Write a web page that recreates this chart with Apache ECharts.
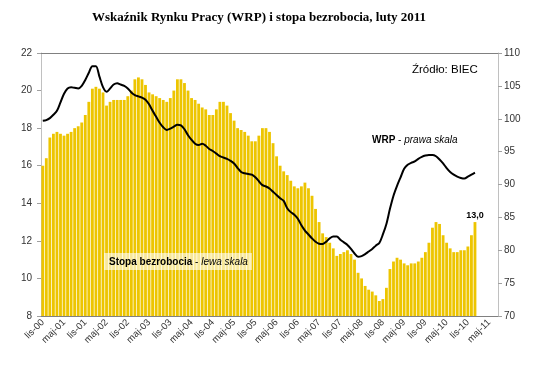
<!DOCTYPE html>
<html>
<head>
<meta charset="utf-8">
<script src="https://cdn.jsdelivr.net/npm/echarts@6/dist/echarts.min.js"></script>
<style>
html,body{margin:0;padding:0;background:#fff;}
#chart{width:550px;height:368px;}
</style>
</head>
<body>
<div id="chart"></div>
<script>
// Month abbreviations (Polish) used for the category axis
const monthNames = ['sty','lut','mar','kwi','maj','cze','lip','sie','wrz','paź','lis','gru'];
const startYear = 2000, startMonth = 10; // lis-00
const categoryCount = 129;               // lis-00 .. lip-11 (axis extent)

// Stopa bezrobocia (%), monthly from lis-00 to sty-11 (left scale)
const unemployment = [
  16.0, 16.4,
  17.5, 17.7, 17.8, 17.7, 17.6, 17.7, 17.8, 18.0, 18.1, 18.3, 18.7, 19.4,
  20.1, 20.2, 20.1, 19.9, 19.2, 19.4, 19.5, 19.5, 19.5, 19.5, 19.7, 20.0,
  20.6, 20.7, 20.6, 20.3, 19.9, 19.8, 19.7, 19.6, 19.5, 19.4, 19.6, 20.0,
  20.6, 20.6, 20.4, 20.0, 19.6, 19.5, 19.3, 19.1, 19.0, 18.7, 18.7, 19.0,
  19.4, 19.4, 19.2, 18.8, 18.4, 18.0, 17.9, 17.8, 17.6, 17.3, 17.3, 17.6,
  18.0, 18.0, 17.8, 17.2, 16.5, 16.0, 15.7, 15.5, 15.2, 14.9, 14.8, 14.9,
  15.1, 14.8, 14.4, 13.7, 13.0, 12.4, 12.2, 11.9, 11.6, 11.2, 11.3, 11.4,
  11.5, 11.3, 11.0, 10.3, 10.0, 9.6, 9.4, 9.3, 9.1, 8.8, 8.9, 9.5,
  10.5, 10.9, 11.1, 11.0, 10.8, 10.7, 10.8, 10.8, 10.9, 11.1, 11.4, 11.9,
  12.7, 13.0, 12.9, 12.3, 11.9, 11.6, 11.4, 11.4, 11.5, 11.5, 11.7, 12.3,
  13.0
];

// WRP index (right scale)
const wrp = [
  99.7, 99.8,
  100.1, 100.6, 101.2, 102.5, 103.8, 104.6, 104.8, 104.7, 104.6, 105.0, 105.9, 107.0,
  108.0, 108.0, 106.4, 104.8, 104.1, 104.6, 105.2, 105.4, 105.2, 105.0, 104.6, 104.0,
  103.6, 103.4, 103.2, 102.9, 102.2, 101.2, 100.3, 99.4, 98.7, 98.3, 98.5, 98.8,
  99.1, 99.0, 98.4, 97.5, 96.8, 96.2, 96.0, 96.2, 95.9, 95.4, 95.1, 94.7,
  94.3, 94.1, 93.9, 93.6, 93.2, 92.5, 91.9, 91.7, 91.6, 91.5, 91.1, 90.5,
  89.9, 89.7, 89.4, 88.9, 88.4, 87.9, 87.5, 86.4, 85.8, 85.4, 84.8, 83.8,
  83.0, 82.4, 81.8, 81.3, 81.0, 80.95, 81.3, 81.8, 82.1, 82.1, 81.6, 81.2,
  80.8, 80.2, 79.5, 79.0, 79.1, 79.4, 79.8, 80.2, 80.7, 81.1, 82.4, 84.0,
  86.3, 88.3, 89.8, 91.1, 92.4, 93.0, 93.3, 93.5, 93.9, 94.2, 94.4, 94.5,
  94.5, 94.3, 93.8, 93.2, 92.5, 91.9, 91.5, 91.2, 91.0, 90.9, 91.2, 91.5,
  91.8
];

const leftTicks = {min: 8, max: 22, interval: 2};
const rightTicks = {min: 70, max: 110, interval: 5};

const categories = [];
for (let k = 0; k < categoryCount; k++) {
  const m = (startMonth + k) % 12;
  const y = startYear + Math.floor((startMonth + k) / 12);
  categories.push(monthNames[m] + '-' + String(y % 100).padStart(2, '0'));
}

const barData = unemployment.map((v, idx) => idx === unemployment.length - 1
  ? {value: v, label: {show: true, position: 'top', distance: 2,
      formatter: p => p.value.toFixed(1).replace('.', ','),
      fontFamily: 'Liberation Sans Narrow, Liberation Sans', fontWeight: 'bold', fontSize: 9, color: '#000'}}
  : v);

const chart = echarts.init(document.getElementById('chart'), null, {renderer: 'canvas'});
const fontSans = 'Liberation Sans, Arial, sans-serif';
chart.setOption({
  animation: false,
  backgroundColor: '#fff',
  title: {
    text: 'Wskaźnik Rynku Pracy (WRP) i stopa bezrobocia, luty 2011',
    left: 87, top: 6,
    textStyle: {fontFamily: 'Liberation Serif, Times New Roman, serif', fontWeight: 'bold', fontSize: 13, color: '#000'}
  },
  grid: {left: 41, right: 52, top: 53, bottom: 52, containLabel: false},
  xAxis: [{
    type: 'category', data: categories, boundaryGap: true,
    axisLine: {lineStyle: {color: '#808080', width: 1}},
    axisTick: {interval: 5, length: 4, lineStyle: {color: '#808080'}},
    axisLabel: {interval: 5, rotate: 45, fontSize: 9.5, color: '#333', fontFamily: fontSans, margin: 5},
    splitLine: {show: false}
  }, {
    type: 'category', data: categories, position: 'top',
    axisLine: {show: true, lineStyle: {color: '#808080', width: 1}},
    axisTick: {show: false}, axisLabel: {show: false}, splitLine: {show: false}
  }],
  yAxis: [{
    type: 'value', min: leftTicks.min, max: leftTicks.max, interval: leftTicks.interval,
    axisLine: {show: true, lineStyle: {color: '#c0c0c0'}},
    axisTick: {show: true, length: 4, lineStyle: {color: '#a0a0a0'}},
    axisLabel: {fontSize: 10, color: '#333', fontFamily: fontSans, margin: 9},
    splitLine: {show: false}
  }, {
    type: 'value', position: 'right', min: rightTicks.min, max: rightTicks.max, interval: rightTicks.interval,
    axisLine: {show: true, lineStyle: {color: '#c0c0c0'}},
    axisTick: {show: true, length: 4, lineStyle: {color: '#a0a0a0'}},
    axisLabel: {fontSize: 10, color: '#333', fontFamily: fontSans, margin: 6},
    splitLine: {show: false}
  }],
  series: [{
    name: 'Stopa bezrobocia', type: 'bar', xAxisIndex: 0, yAxisIndex: 0,
    data: barData, barCategoryGap: '20%',
    itemStyle: {color: '#EDC500'}, z: 2
  }, {
    name: 'WRP', type: 'line', xAxisIndex: 0, yAxisIndex: 1,
    data: wrp, smooth: 0.3, showSymbol: false, symbol: 'none',
    lineStyle: {color: '#000', width: 2}, z: 5
  }],
  graphic: [{
    type: 'text', left: 412, top: 64, z: 10,
    style: {text: 'Źródło: BIEC', font: '11.5px Liberation Sans', fill: '#000'}
  }, {
    type: 'text', left: 372, top: 135, z: 10,
    style: {
      text: '{b|WRP}{n| - }{i|prawa skala}',
      rich: {
        b: {fontFamily: 'Liberation Sans', fontWeight: 'bold', fontSize: 10, color: '#000'},
        n: {fontFamily: 'Liberation Sans', fontSize: 10, color: '#000'},
        i: {fontFamily: 'Liberation Sans', fontStyle: 'italic', fontSize: 10, color: '#000'}
      }
    }
  }, {
    type: 'text', left: 104, top: 253, z: 10,
    style: {
      text: '{b|Stopa bezrobocia}{n| - }{i|lewa skala}',
      backgroundColor: 'rgba(255,255,255,0.6)', padding: [4, 4, 3, 5],
      rich: {
        b: {fontFamily: 'Liberation Sans', fontWeight: 'bold', fontSize: 10, color: '#808080'},
        n: {fontFamily: 'Liberation Sans', fontSize: 10, color: '#808080'},
        i: {fontFamily: 'Liberation Sans', fontStyle: 'italic', fontSize: 10, color: '#808080'}
      }
    }
  }]
});
</script>
</body>
</html>
